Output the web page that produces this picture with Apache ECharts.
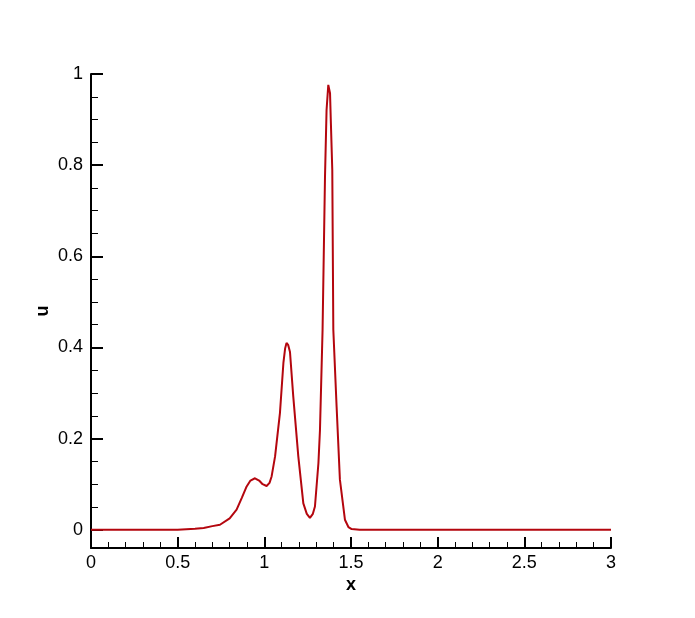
<!DOCTYPE html>
<html><head><meta charset="utf-8">
<script src="https://cdn.jsdelivr.net/npm/echarts@6/dist/echarts.min.js"></script>
<style>html,body{margin:0;padding:0;background:#fff}#c{width:695px;height:618px}</style>
</head><body><div id="c"></div>
<script>
const xs = [0, 0.5, 0.6, 0.65, 0.7, 0.744, 0.8, 0.84, 0.87, 0.898, 0.92, 0.946, 0.97, 0.99, 1.013, 1.03, 1.042, 1.062, 1.09, 1.11, 1.12, 1.128, 1.138, 1.148, 1.167, 1.196, 1.225, 1.245, 1.263, 1.28, 1.292, 1.312, 1.321, 1.336, 1.35, 1.359, 1.369, 1.379, 1.384, 1.392, 1.398, 1.417, 1.436, 1.465, 1.485, 1.504, 1.55, 2, 3];
const us = [0, 0, 0.002, 0.004, 0.008, 0.011, 0.025, 0.044, 0.07, 0.095, 0.108, 0.113, 0.108, 0.1, 0.096, 0.103, 0.117, 0.161, 0.256, 0.366, 0.398, 0.41, 0.405, 0.39, 0.292, 0.161, 0.058, 0.035, 0.026, 0.035, 0.051, 0.146, 0.219, 0.439, 0.775, 0.921, 0.976, 0.958, 0.892, 0.79, 0.439, 0.27, 0.11, 0.022, 0.006, 0.0015, 0, 0, 0];
const yMajor = [0, 0.2, 0.4, 0.6, 0.8, 1];
const yMinor = [0.05, 0.1, 0.15, 0.25, 0.3, 0.35, 0.45, 0.5, 0.55, 0.65, 0.7, 0.75, 0.85, 0.9, 0.95];

const font = '"Liberation Sans", Arial, sans-serif';
const chart = echarts.init(document.getElementById('c'));
chart.setOption({
  animation: false,
  grid: {left: 91, top: 74, right: 84, bottom: 70},
  xAxis: {
    type: 'value', min: 0, max: 3, interval: 0.5,
    name: 'x', nameLocation: 'middle', nameGap: 28, nameMoveOverlap: false,
    nameTextStyle: {fontFamily: font, fontSize: 18, fontWeight: 'bold', color: '#000'},
    axisLine: {show: true, onZero: false, lineStyle: {color: '#000', width: 2}},
    axisTick: {show: true, inside: true, length: 11, lineStyle: {color: '#000', width: 2}},
    minorTick: {show: true, splitNumber: 5, length: 6, lineStyle: {color: '#000', width: 1}},
    axisLabel: {fontFamily: font, fontSize: 18, color: '#000', margin: 6},
    splitLine: {show: false}
  },
  yAxis: [{
    type: 'value', min: -0.04, max: 1,
    name: 'u', nameLocation: 'middle', nameGap: 39, nameRotate: 90, nameMoveOverlap: false,
    nameTextStyle: {fontFamily: font, fontSize: 18, fontWeight: 'bold', color: '#000'},
    axisLine: {show: true, onZero: false, lineStyle: {color: '#000', width: 2}},
    axisTick: {show: true, inside: true, length: 12, customValues: yMajor, lineStyle: {color: '#000', width: 2}},
    axisLabel: {fontFamily: font, fontSize: 18, color: '#000', margin: 8, customValues: yMajor},
    splitLine: {show: false}
  }, {
    type: 'value', min: -0.04, max: 1, position: 'left',
    axisLine: {show: false},
    axisTick: {show: true, inside: true, length: 7, customValues: yMinor, lineStyle: {color: '#000', width: 1}},
    axisLabel: {show: false},
    splitLine: {show: false}
  }],
  series: [{
    type: 'line', yAxisIndex: 0, showSymbol: false, smooth: false,
    data: xs.map((x, i) => [x, us[i]]),
    lineStyle: {color: '#b4060e', width: 2},
    z: 1
  }]
});
</script></body></html>
